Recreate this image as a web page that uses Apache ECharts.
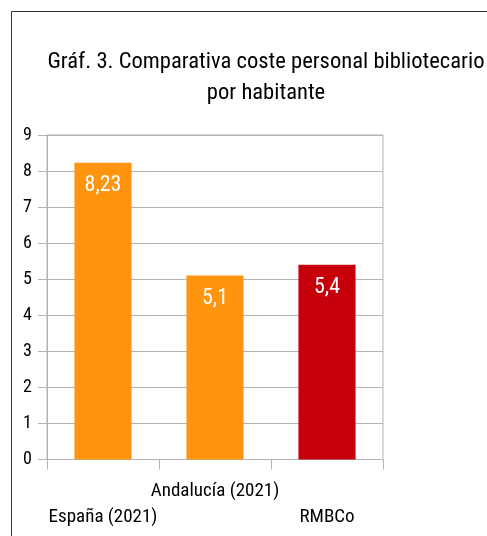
<!DOCTYPE html>
<html>
<head>
<meta charset="utf-8">
<script src="https://cdn.jsdelivr.net/npm/echarts@6/dist/echarts.min.js"></script>
<style>
html,body{margin:0;padding:0;background:#fff;}
#chart{width:487px;height:536px;}
</style>
</head>
<body>
<div id="chart"></div>
<script>
const titleText = 'Gráf. 3. Comparativa coste personal bibliotecario\npor habitante';
const categories = ['España (2021)', 'Andalucía (2021)', 'RMBCo'];
const values = [8.23, 5.1, 5.4];
const barColors = ['#ff950e', '#ff950e', '#c5000b'];
const yTicks = [0, 1, 2, 3, 4, 5, 6, 7, 8, 9];

const FONT = '"Roboto Condensed", "Liberation Sans Narrow", "Liberation Sans", sans-serif';
const chart = echarts.init(document.getElementById('chart'), null, {renderer: 'canvas'});
chart.setOption({
  animation: false,
  backgroundColor: '#ffffff',
  title: {
    text: titleText,
    left: 266,
    top: 47,
    padding: 0,
    textAlign: 'center',
    textStyle: {fontFamily: FONT, fontSize: 22.6, fontWeight: 'normal', color: '#000', lineHeight: 31}
  },
  graphic: [{
    type: 'rect',
    shape: {x: 11.5, y: 11.5, width: 700, height: 700},
    style: {fill: 'none', stroke: '#333', lineWidth: 1},
    silent: true,
    z: 100
  }],
  grid: {
    left: 47, right: 104, top: 135, bottom: 76.5,
    show: true, borderColor: '#b3b3b3', borderWidth: 1, backgroundColor: 'transparent'
  },
  xAxis: {
    type: 'category',
    data: categories,
    axisLine: {lineStyle: {color: '#b3b3b3', width: 1}},
    axisTick: {show: true, length: 10, lineStyle: {color: '#b3b3b3'}},
    axisLabel: {
      interval: 0,
      margin: 19,
      fontFamily: FONT, fontSize: 19, color: '#000', lineHeight: 25.5,
      formatter: function (v, i) { return i % 2 === 1 ? v : '\n' + v; }
    }
  },
  yAxis: {
    type: 'value',
    min: yTicks[0], max: yTicks[yTicks.length - 1], interval: 1,
    axisLine: {show: true, lineStyle: {color: '#b3b3b3', width: 1}},
    axisTick: {show: true, length: 9, lineStyle: {color: '#b3b3b3'}},
    axisLabel: {margin: 15, fontFamily: FONT, fontSize: 18, color: '#000'},
    splitLine: {show: true, lineStyle: {color: '#b3b3b3', width: 1}}
  },
  series: [{
    type: 'bar',
    data: values.map((v, i) => ({value: v, itemStyle: {color: barColors[i]}})),
    barWidth: '51%',
    label: {
      show: true,
      position: 'insideTop',
      distance: 12,
      color: '#fff',
      fontFamily: FONT,
      fontSize: 22,
      formatter: p => String(p.value).replace('.', ',')
    }
  }]
});
</script>
</body>
</html>
